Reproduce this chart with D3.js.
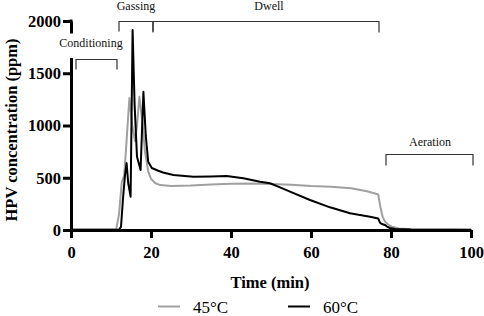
<!DOCTYPE html>
<html><head><meta charset="utf-8">
<script src="https://cdn.jsdelivr.net/npm/d3@7"></script>
<style>body{margin:0;background:#fff}svg{display:block}</style>
</head><body>
<svg id="c" width="484" height="316"></svg>
<script>
const xTicks = [0,20,40,60,80,100];
const yTicks = [0,500,1000,1500,2000];
const seriesNames = ["45°C","60°C"];
const seriesColors = ["#a0a0a0","#000000"];
const t45 = [0,5,10,11.3,12,12.7,13.3,13.8,14.6,15.3,16,16.5,17.1,17.8,18.5,19.3,20,21,22.3,25,30,35,40,45,50,55,60,65,70,74,76,76.8,77.3,77.9,78.5,79.2,80.2,82,85,90,95,100];
const v45 = [5,5,5,8,150,460,520,800,1263,1000,850,1000,1275,1050,750,560,490,450,430,421,425,435,443,445,440,434,421,415,400,370,350,340,230,127,80,55,32,14,8,5,4,3];
const t60 = [0,5,10,12,12.5,13,13.5,13.9,14.3,14.9,15.4,15.9,16.5,17.4,18.1,18.7,19.3,20.2,21.8,23,25.6,30.6,35,38.9,43.1,47.25,49.75,52.25,54.75,59.75,64.75,69.75,74.75,76.8,77.25,77.7,78.5,79,79.75,81,85,90,100];
const v60 = [3,3,3,3,30,300,526,640,450,319,1914,1200,700,574,1323,900,653,593,567,550,526,510,512,517,495,462,447,408,367,287,217,160,127,110,70,57,48,33,19,10,5,3,3];
const phaseNames = ["Conditioning","Gassing","Dwell","Aeration"];
const phaseStart = [1.25,12,20.5,78.75];
const phaseEnd = [11.5,20.5,77,100.5];
const phaseLevel = [1635,2000,2000,727];

const svg = d3.select("#c");
const x = d3.scaleLinear().domain([0,100]).range([71,471]);
const y = d3.scaleLinear().domain([0,2000]).range([230,21]);
const serif = "'Liberation Serif','Times New Roman',serif";

// lines
const series = [t45.map((t,i)=>[t,v45[i]]), t60.map((t,i)=>[t,v60[i]])];
const line = d3.line().x(d=>x(d[0])).y(d=>y(d[1]));
series.forEach((s,i)=>{
  svg.append("path").datum(s).attr("d",line).attr("fill","none")
    .attr("stroke",seriesColors[i]).attr("stroke-width",2).attr("stroke-linejoin","round");
});

// axes
const yAx = svg.append("g").attr("transform","translate(71,0)")
  .call(d3.axisLeft(y).tickValues(yTicks).tickSize(8).tickSizeOuter(0).tickPadding(2).tickFormat(d3.format("d")));
const xAx = svg.append("g").attr("transform","translate(0,230)")
  .call(d3.axisBottom(x).tickValues(xTicks).tickSize(8).tickSizeOuter(0).tickPadding(8));
[yAx,xAx].forEach(g=>{
  g.select(".domain").attr("stroke","#000").attr("stroke-width",3);
  g.selectAll(".tick line").attr("stroke","#000").attr("stroke-width",3);
  g.selectAll(".tick text").attr("fill","#000").style("font-family",serif)
    .style("font-weight","bold").style("font-size","16.5px");
});
// square top corner
svg.append("line").attr("x1",69.5).attr("x2",72.5).attr("y1",y(2000)).attr("y2",y(2000)).attr("stroke","#000").attr("stroke-width",3);

// axis titles
svg.append("text").attr("x",270).attr("y",288).attr("text-anchor","middle")
  .style("font-family",serif).style("font-weight","bold").style("font-size","16.5px").text("Time (min)");
svg.append("text").attr("transform","translate(17,130) rotate(-90)").attr("text-anchor","middle")
  .style("font-family",serif).style("font-weight","bold").style("font-size","16.5px").text("HPV concentration (ppm)");

// Conditioning label background box
svg.append("rect").attr("x",56).attr("y",33.5).attr("width",70).attr("height",24.5).attr("fill","#fff");

// phase brackets
const tickDrop = [10,10,11,11];
phaseNames.forEach((n,i)=>{
  const x0 = x(phaseStart[i]), x1 = x(phaseEnd[i]), yy = Math.round(y(phaseLevel[i]))+0.5;
  svg.append("path").attr("d",`M${x0},${yy+tickDrop[i]}V${yy}H${x1}V${yy+tickDrop[i]}`)
    .attr("fill","none").attr("stroke","#333").attr("stroke-width",1.2);
});
const labelX = [91,136,269,430];
const labelY = [47,9.5,10,145.5];
phaseNames.forEach((n,i)=>{
  svg.append("text").attr("x",labelX[i]).attr("y",labelY[i]).attr("text-anchor","middle")
    .style("font-family",serif).style("font-size","12px").attr("fill","#111").text(n);
});

// legend
const legX = [158,288];
seriesNames.forEach((n,i)=>{
  svg.append("line").attr("x1",legX[i]).attr("x2",legX[i]+22).attr("y1",306.5).attr("y2",306.5)
    .attr("stroke",seriesColors[i]).attr("stroke-width",2);
  svg.append("text").attr("x",legX[i]+35).attr("y",312.5)
    .style("font-family",serif).style("font-size","17px").attr("fill","#000").text(n);
});
</script>
</body></html>
